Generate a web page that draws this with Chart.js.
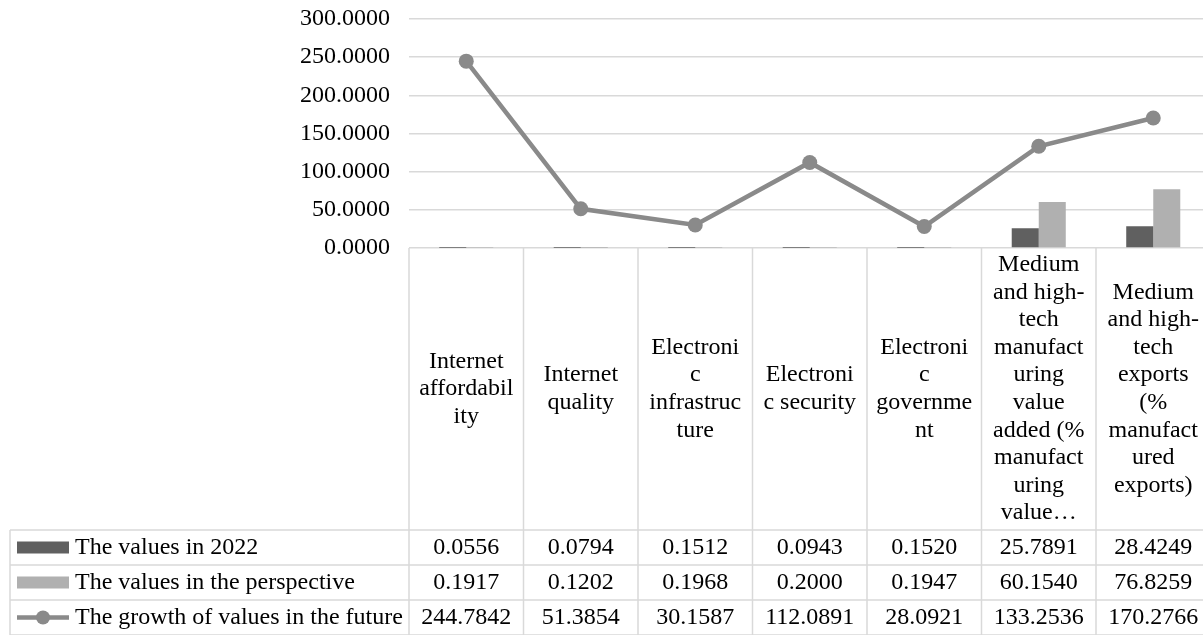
<!DOCTYPE html>
<html>
<head>
<meta charset="utf-8">
<script src="https://cdn.jsdelivr.net/npm/chart.js@4.4.1/dist/chart.umd.min.js"></script>
<style>
html, body { margin: 0; padding: 0; background: #fff; overflow: hidden; }
#wrap { width: 1203px; height: 635px; overflow: hidden; }
canvas { display: block; }
</style>
</head>
<body>
<div id="wrap"><canvas id="myChart" width="1218" height="635"></canvas></div>
<script>
// categories, as wrapped in the data table
var categories = [
    ['Internet', 'affordabil', 'ity'],
    ['Internet', 'quality'],
    ['Electroni', 'c', 'infrastruc', 'ture'],
    ['Electroni', 'c security'],
    ['Electroni', 'c', 'governme', 'nt'],
    ['Medium', 'and high-', 'tech', 'manufact', 'uring', 'value', 'added (%', 'manufact', 'uring', 'value\u2026'],
    ['Medium', 'and high-', 'tech', 'exports', '(%', 'manufact', 'ured', 'exports)']
];
var seriesNames = ['The values in 2022', 'The values in the perspective', 'The growth of values in the future'];
var values2022 = [0.0556, 0.0794, 0.1512, 0.0943, 0.1520, 25.7891, 28.4249];
var valuesPerspective = [0.1917, 0.1202, 0.1968, 0.2000, 0.1947, 60.1540, 76.8259];
var valuesGrowth = [244.7842, 51.3854, 30.1587, 112.0891, 28.0921, 133.2536, 170.2766];
var yMin = 0, yMax = 300, yStep = 50;

var darkGrey = '#606060';
var lightGrey = '#b0b0b0';
var lineGrey = '#8a8a8a';
var gridGrey = '#d9d9d9';
var serif = "'Liberation Serif', 'Times New Roman', serif";

Chart.defaults.font.family = serif;
Chart.defaults.font.size = 24;
Chart.defaults.color = '#000';

// draws the data table under the plot (category headers, legend keys, values)
var dataTable = {
    id: 'dataTable',
    afterDraw: function (chart) {
        var ctx = chart.ctx;
        var area = chart.chartArea;
        var xs = chart.scales.x;
        var n = categories.length;
        var colW = (area.right - area.left) / n;
        var top = area.bottom;
        var headBottom = 530;
        var rowH = 35;
        var tableLeft = 10;
        var rows = [values2022, valuesPerspective, valuesGrowth];

        ctx.save();
        ctx.strokeStyle = gridGrey;
        ctx.lineWidth = 1.5;
        ctx.beginPath();
        for (var i = 0; i <= n; i++) {
            var bx = area.left + i * colW;
            ctx.moveTo(bx, top);
            ctx.lineTo(bx, headBottom + rowH * 3);
        }
        ctx.moveTo(tableLeft, headBottom);
        ctx.lineTo(tableLeft, headBottom + rowH * 3);
        for (var r = 0; r <= 3; r++) {
            ctx.moveTo(tableLeft, headBottom + r * rowH);
            ctx.lineTo(area.right, headBottom + r * rowH);
        }
        ctx.stroke();

        ctx.fillStyle = '#000';
        ctx.font = '24px ' + serif;
        ctx.textAlign = 'center';
        ctx.textBaseline = 'middle';
        var lh = 27.6;
        var midHead = (top + headBottom) / 2;
        categories.forEach(function (lines, i) {
            var cx = xs.getPixelForValue(i);
            var y0 = midHead - (lines.length - 1) * lh / 2;
            lines.forEach(function (t, k) {
                ctx.fillText(t, cx, y0 + k * lh);
            });
        });

        rows.forEach(function (vals, r) {
            var cy = headBottom + r * rowH + rowH / 2;
            ctx.textAlign = 'center';
            vals.forEach(function (v, i) {
                ctx.fillText(v.toFixed(4), xs.getPixelForValue(i), cy);
            });
            // legend key
            if (r < 2) {
                ctx.fillStyle = r === 0 ? darkGrey : lightGrey;
                ctx.fillRect(17, cy - 6, 52, 12);
            } else {
                ctx.strokeStyle = lineGrey;
                ctx.lineWidth = 4.5;
                ctx.beginPath();
                ctx.moveTo(17, cy);
                ctx.lineTo(69, cy);
                ctx.stroke();
                ctx.fillStyle = lineGrey;
                ctx.beginPath();
                ctx.arc(43, cy, 7, 0, Math.PI * 2);
                ctx.fill();
            }
            ctx.fillStyle = '#000';
            ctx.textAlign = 'left';
            ctx.fillText(seriesNames[r], 75, cy);
        });
        ctx.restore();
    }
};

var ctx = document.getElementById('myChart').getContext('2d');
var myChart = new Chart(ctx, {
    type: 'bar',
    data: {
        labels: categories,
        datasets: [{
            type: 'line',
            label: seriesNames[2],
            data: valuesGrowth,
            borderColor: lineGrey,
            backgroundColor: lineGrey,
            borderWidth: 4.5,
            pointRadius: 7.5,
            pointHoverRadius: 7.5,
            pointBorderWidth: 0,
            tension: 0,
            order: 0
        }, {
            label: seriesNames[0],
            data: values2022,
            backgroundColor: darkGrey,
            categoryPercentage: 0.472,
            barPercentage: 1,
            order: 1
        }, {
            label: seriesNames[1],
            data: valuesPerspective,
            backgroundColor: lightGrey,
            categoryPercentage: 0.472,
            barPercentage: 1,
            order: 2
        }]
    },
    options: {
        responsive: false,
        animation: false,
        layout: {
            padding: { top: 19, right: 0, bottom: 387, left: 0 }
        },
        plugins: {
            legend: { display: false },
            tooltip: { enabled: false }
        },
        scales: {
            x: {
                display: false
            },
            y: {
                min: yMin,
                max: yMax,
                afterFit: function (scale) { scale.width = 409; },
                border: { display: false },
                grid: {
                    color: gridGrey,
                    lineWidth: 1.5,
                    drawTicks: true,
                    tickLength: 19,
                    tickColor: 'rgba(0,0,0,0)'
                },
                ticks: {
                    stepSize: yStep,
                    padding: 0,
                    color: '#000',
                    font: { size: 24 },
                    callback: function (v) { return Number(v).toFixed(4); }
                }
            }
        }
    },
    plugins: [dataTable]
});
</script>
</body>
</html>
